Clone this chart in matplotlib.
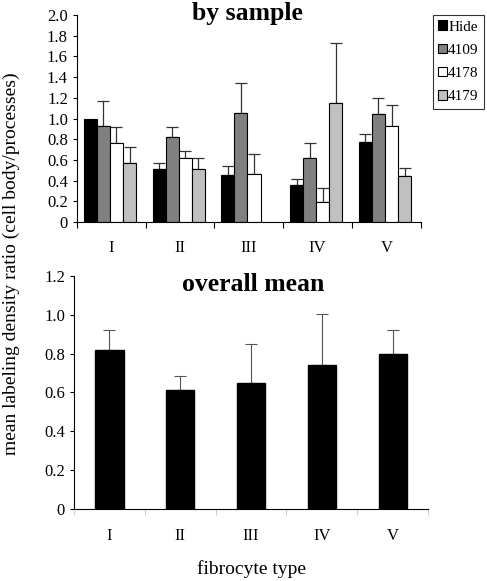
import numpy as np
import matplotlib.pyplot as plt

plt.rcParams['font.family'] = ['Liberation Serif', 'DejaVu Serif']

types = ["I", "II", "III", "IV", "V"]
samples = ["Hide", "4109", "4178", "4179"]
sample_colors = ["#000000", "#808080", "#ffffff", "#c0c0c0"]

# by sample: means and upper error (top of whisker minus mean)
hide_mean = [1.00, 0.51, 0.45, 0.36, 0.77]
hide_err = [0.00, 0.06, 0.09, 0.06, 0.08]
s4109_mean = [0.93, 0.82, 1.05, 0.62, 1.04]
s4109_err = [0.24, 0.10, 0.29, 0.14, 0.16]
s4178_mean = [0.76, 0.62, 0.46, 0.19, 0.93]
s4178_err = [0.16, 0.07, 0.20, 0.14, 0.20]
s4179_mean = [0.57, 0.51, 0.0, 1.15, 0.44]
s4179_err = [0.15, 0.11, 0.0, 0.58, 0.08]

# overall mean
overall_mean = [0.82, 0.615, 0.65, 0.74, 0.80]
overall_err = [0.10, 0.07, 0.20, 0.265, 0.12]

fig = plt.figure(figsize=(4.87, 5.81), dpi=100)

ax1 = fig.add_axes([0.158, 0.618, 0.706, 0.356])
ax2 = fig.add_axes([0.152, 0.124, 0.727, 0.401])

x = np.arange(len(types)) + 0.5
w = 0.19
means = [hide_mean, s4109_mean, s4178_mean, s4179_mean]
errs = [hide_err, s4109_err, s4178_err, s4179_err]
for i, (m, e) in enumerate(zip(means, errs)):
    pos = x + (i - 1.5) * w - 0.02
    m = np.array(m)
    e = np.array(e)
    show = m > 0
    ax1.bar(pos[show], m[show], w, color=sample_colors[i], edgecolor="black",
            linewidth=0.8, label=samples[i], zorder=2)
    has_err = show & (e > 0)
    ax1.errorbar(pos[has_err], m[has_err], yerr=[np.zeros(has_err.sum()), e[has_err]],
                 fmt="none", ecolor="#333333", elinewidth=0.9, capsize=4, capthick=0.9, zorder=1)

ax1.set_xlim(0, 5)
ax1.set_ylim(0, 2.0)
ax1.set_yticks(np.arange(0, 2.01, 0.2))
ax1.set_yticklabels(["0"] + [f"{v:.1f}" for v in np.arange(0.2, 2.01, 0.2)])
ax1.set_xticks(np.arange(0, 6))
ax1.set_xticklabels([])
ax1.set_xticks(x, minor=True)
ax1.set_xticklabels(types, minor=True)
ax1.tick_params(axis="x", which="minor", length=0, pad=13, labelsize=12)
ax1.tick_params(axis="x", which="major", length=4, direction="out")
ax1.tick_params(axis="y", labelsize=12, length=3, direction="out")
for s in ["top", "right"]:
    ax1.spines[s].set_visible(False)
ax1.text(2.48, 2.02, "by sample", ha="center", va="center", fontsize=18.5,
         fontweight="bold", clip_on=False)

leg = ax1.legend(loc="upper left", bbox_to_anchor=(1.035, 1.0), fontsize=11,
                 frameon=True, fancybox=False, edgecolor="black", handlelength=0.6,
                 handleheight=0.6, handletextpad=0.05, borderpad=0.35, labelspacing=0.65,
                 borderaxespad=0)
leg.get_frame().set_linewidth(0.8)

ax2.bar(x, overall_mean, 0.4, color="black", edgecolor="black", zorder=2)
ax2.errorbar(x, overall_mean, yerr=[np.zeros(5), overall_err], fmt="none",
             ecolor="#555555", elinewidth=0.8, capsize=4, capthick=0.8, zorder=1)
ax2.set_xlim(0, 5)
ax2.set_ylim(0, 1.2)
ax2.set_yticks(np.arange(0, 1.21, 0.2))
ax2.set_yticklabels(["0"] + [f"{v:.1f}" for v in np.arange(0.2, 1.21, 0.2)])
ax2.set_xticks(np.arange(0, 6))
ax2.set_xticklabels([])
ax2.set_xticks(x, minor=True)
ax2.set_xticklabels(types, minor=True)
ax2.tick_params(axis="x", which="minor", length=0, pad=14, labelsize=12)
ax2.tick_params(axis="x", which="major", length=4, direction="out", color="#cccccc")
ax2.tick_params(axis="y", labelsize=12, length=3, direction="out")
for s in ["top", "right"]:
    ax2.spines[s].set_visible(False)
ax2.text(2.53, 1.155, "overall mean", ha="center", va="center", fontsize=18.5, fontweight="bold")
ax2.set_xlabel("fibrocyte type", fontsize=14, labelpad=11)

fig.text(0.024, 0.547, "mean labeling density ratio (cell body/processes)",
         rotation=90, ha="center", va="center", fontsize=14)

fig.savefig("out.png", dpi=100)
